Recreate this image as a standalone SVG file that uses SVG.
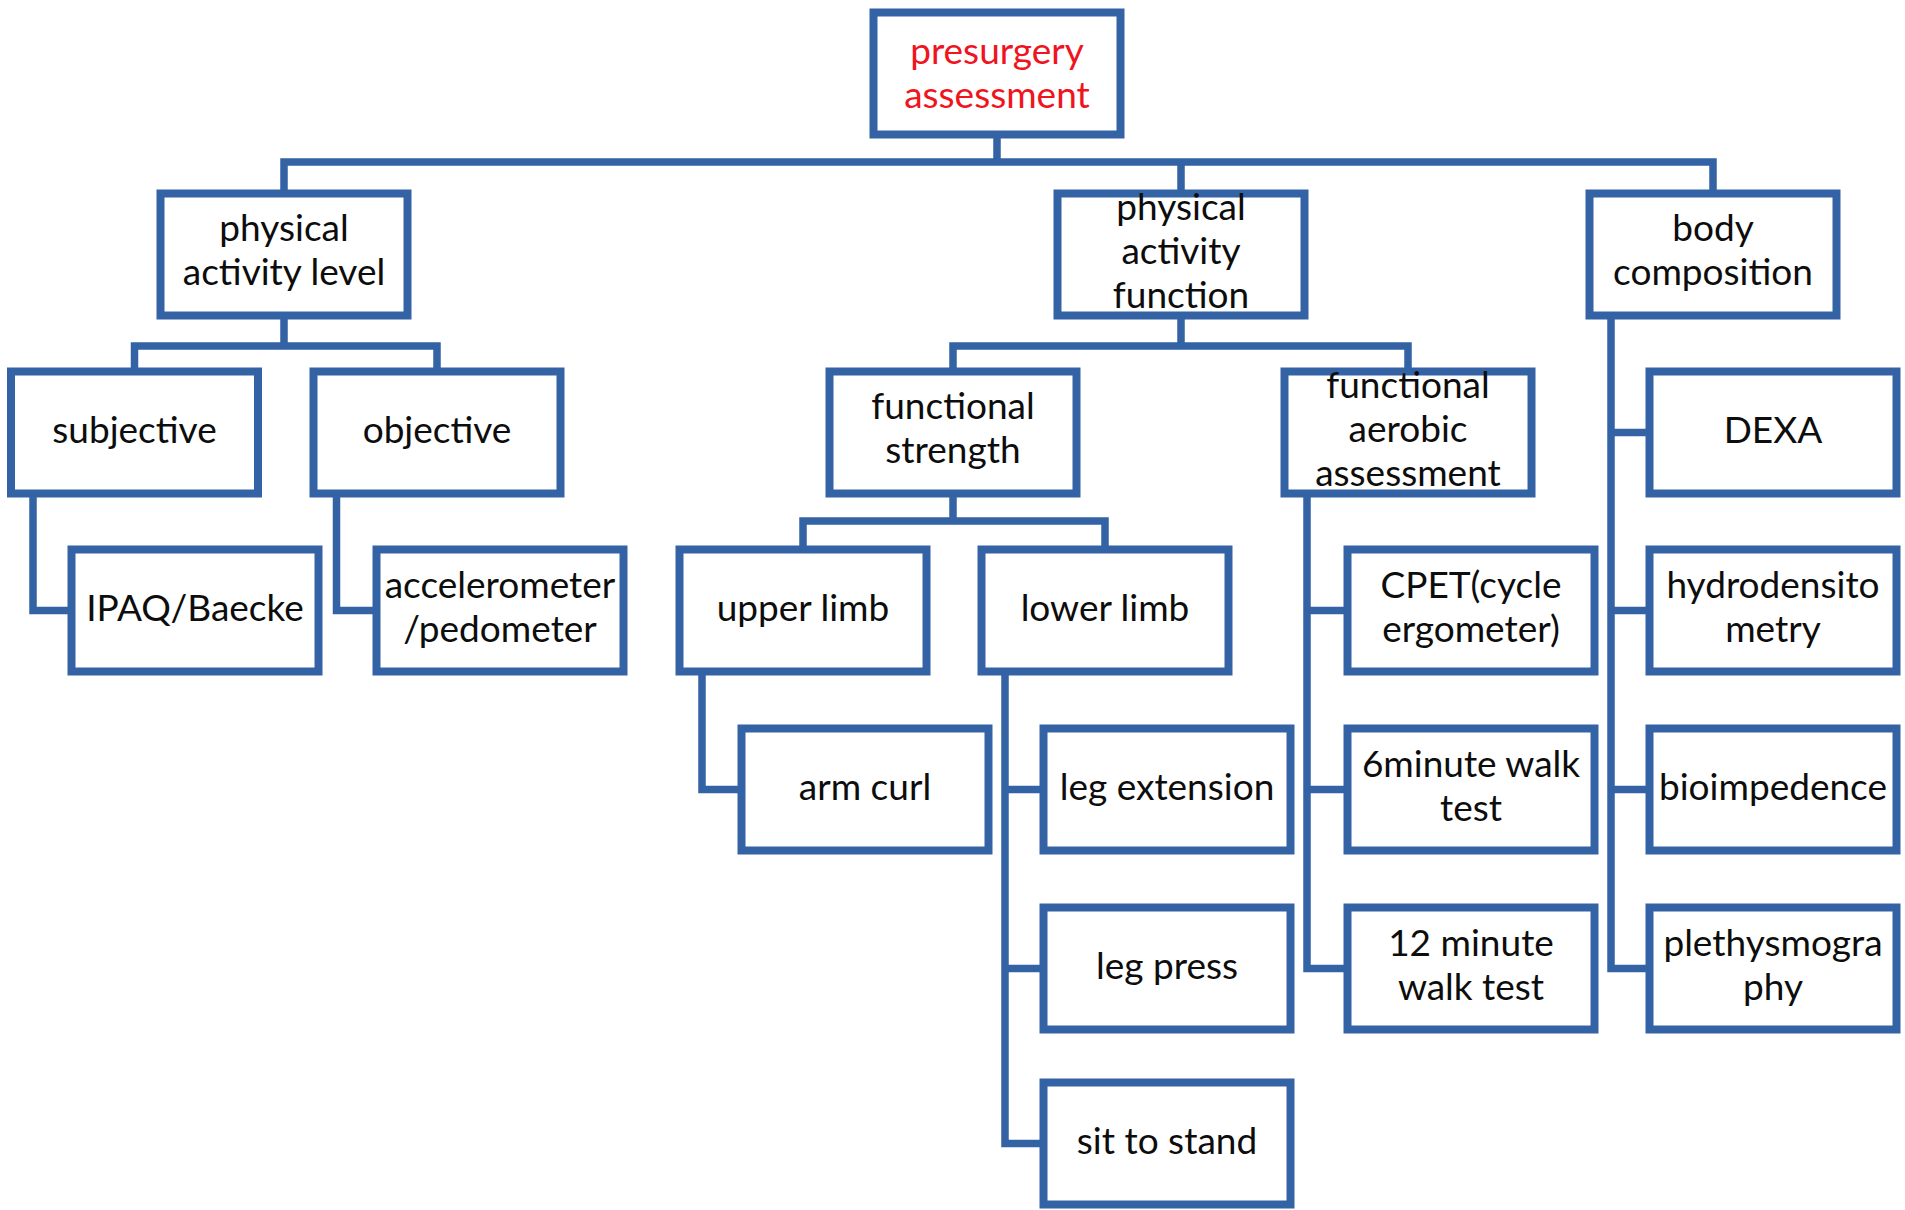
<svg xmlns="http://www.w3.org/2000/svg" width="1905" height="1210" viewBox="0 0 1905 1210">
<style>
.box{fill:#ffffff;stroke:#3463a5;stroke-width:8}
.t{font-family:Lato,"Liberation Sans",sans-serif;font-size:37px;fill:#0d0d0d;text-anchor:middle}
.red{fill:#f0141e}
.c{fill:none;stroke:#3463a5;stroke-width:7.5;stroke-linejoin:miter}
</style>
<rect width="1905" height="1210" fill="#ffffff"/>
<g id="connectors">
<path class="c" d="M997,133.5 V162 M284,194.5 V162 H1713 V194.5 M1181,162 V194.5"/>
<path class="c" d="M284,314.5 V346 M134.5,372.5 V346 H437 V372.5"/>
<path class="c" d="M33,492.5 V610.5 H72.5 M336.5,492.5 V610.5 H377.5"/>
<path class="c" d="M1181,314.5 V346 M953,372.5 V346 H1408 V372.5"/>
<path class="c" d="M953,492.5 V521 M803,550.5 V521 H1105 V550.5"/>
<path class="c" d="M702,670.5 V789.5 H742.5"/>
<path class="c" d="M1005,670.5 V1143.5 H1044.5 M1005,789.5 H1044.5 M1005,968.5 H1044.5"/>
<path class="c" d="M1307,492.5 V968.5 H1348.5 M1307,610.5 H1348.5 M1307,789.5 H1348.5"/>
<path class="c" d="M1611,314.5 V968.5 H1650.5 M1611,432.5 H1650.5 M1611,610.5 H1650.5 M1611,789.5 H1650.5"/>
</g>
<g id="presurgery-assessment"><rect class="box" x="873.5" y="12.5" width="247" height="122"/><text class="t red" x="997" y="64">presurgery</text><text class="t red" x="997" y="108">assessment</text></g>
<g id="physical-activity-level"><rect class="box" x="160.5" y="193.5" width="247" height="122"/><text class="t" x="284" y="241">physical</text><text class="t" x="284" y="285">activity level</text></g>
<g id="physical-activity-function"><rect class="box" x="1057.5" y="193.5" width="247" height="122"/><text class="t" x="1181" y="220">physical</text><text class="t" x="1181" y="264">activity</text><text class="t" x="1181" y="308">function</text></g>
<g id="body-composition"><rect class="box" x="1589.5" y="193.5" width="247" height="122"/><text class="t" x="1713" y="241">body</text><text class="t" x="1713" y="285">composition</text></g>
<g id="subjective"><rect class="box" x="11" y="371.5" width="247" height="122"/><text class="t" x="134.5" y="443">subjective</text></g>
<g id="objective"><rect class="box" x="313.5" y="371.5" width="247" height="122"/><text class="t" x="437" y="443">objective</text></g>
<g id="functional-strength"><rect class="box" x="829.5" y="371.5" width="247" height="122"/><text class="t" x="953" y="419">functional</text><text class="t" x="953" y="463">strength</text></g>
<g id="functional-aerobic-assessment"><rect class="box" x="1284.5" y="371.5" width="247" height="122"/><text class="t" x="1408" y="398">functional</text><text class="t" x="1408" y="442">aerobic</text><text class="t" x="1408" y="486">assessment</text></g>
<g id="dexa"><rect class="box" x="1649.5" y="371.5" width="247" height="122"/><text class="t" x="1773" y="443">DEXA</text></g>
<g id="ipaq-baecke"><rect class="box" x="71.5" y="549.5" width="247" height="122"/><text class="t" x="195" y="621">IPAQ/Baecke</text></g>
<g id="accelerometer-pedometer"><rect class="box" x="376.5" y="549.5" width="247" height="122"/><text class="t" x="500" y="598">accelerometer</text><text class="t" x="500" y="642">/pedometer</text></g>
<g id="upper-limb"><rect class="box" x="679.5" y="549.5" width="247" height="122"/><text class="t" x="803" y="621">upper limb</text></g>
<g id="lower-limb"><rect class="box" x="981.5" y="549.5" width="247" height="122"/><text class="t" x="1105" y="621">lower limb</text></g>
<g id="cpet"><rect class="box" x="1347.5" y="549.5" width="247" height="122"/><text class="t" x="1471" y="598">CPET(cycle</text><text class="t" x="1471" y="642">ergometer)</text></g>
<g id="hydrodensitometry"><rect class="box" x="1649.5" y="549.5" width="247" height="122"/><text class="t" x="1773" y="598">hydrodensito</text><text class="t" x="1773" y="642">metry</text></g>
<g id="arm-curl"><rect class="box" x="741.5" y="728.5" width="247" height="122"/><text class="t" x="865" y="800">arm curl</text></g>
<g id="leg-extension"><rect class="box" x="1043.5" y="728.5" width="247" height="122"/><text class="t" x="1167" y="800">leg extension</text></g>
<g id="six-minute-walk-test"><rect class="box" x="1347.5" y="728.5" width="247" height="122"/><text class="t" x="1471" y="777">6minute walk</text><text class="t" x="1471" y="821">test</text></g>
<g id="bioimpedence"><rect class="box" x="1649.5" y="728.5" width="247" height="122"/><text class="t" x="1773" y="800">bioimpedence</text></g>
<g id="leg-press"><rect class="box" x="1043.5" y="907.5" width="247" height="122"/><text class="t" x="1167" y="979">leg press</text></g>
<g id="twelve-minute-walk-test"><rect class="box" x="1347.5" y="907.5" width="247" height="122"/><text class="t" x="1471" y="956">12 minute</text><text class="t" x="1471" y="1000">walk test</text></g>
<g id="plethysmography"><rect class="box" x="1649.5" y="907.5" width="247" height="122"/><text class="t" x="1773" y="956">plethysmogra</text><text class="t" x="1773" y="1000">phy</text></g>
<g id="sit-to-stand"><rect class="box" x="1043.5" y="1082.5" width="247" height="122"/><text class="t" x="1167" y="1154">sit to stand</text></g>
</svg>
